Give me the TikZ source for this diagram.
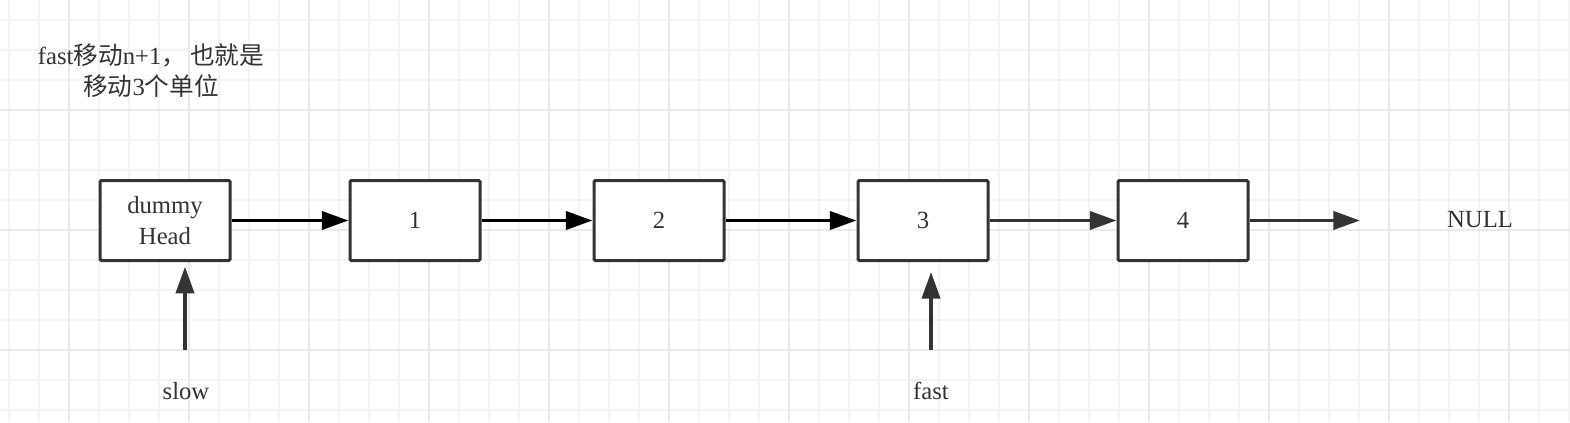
\documentclass[tikz,border=0pt]{standalone}
\usepackage{fontspec}
\setmainfont{Liberation Serif}
\newfontfamily\cjk{Noto Sans CJK SC}
\usepackage{xcolor}
\usepackage{tikz}
\usetikzlibrary{arrows.meta, positioning, calc}
\definecolor{ink}{HTML}{333333}
\definecolor{gridminor}{HTML}{F4F4F4}
\definecolor{gridmajor}{HTML}{EAEAEA}

\begin{document}
\begin{tikzpicture}[x=0.75pt, y=0.75pt,
    listnode/.style={draw=ink, line width=2.25pt, rounded corners=1pt, fill=white,
      minimum width=97.5pt, minimum height=60pt, align=center, text=ink},
    link/.style={draw=black, line width=2.9pt, -{Triangle[length=20pt, width=13.5pt]}},
    pointer/.style={link, draw=ink},
    tag/.style={text=ink, align=center},
    gridline/.style={draw=gridminor, line width=1.4pt},
    gridbold/.style={draw=gridmajor, line width=1.6pt}
  ]
  \useasboundingbox (0,0) rectangle (1570,-422);
  \fill[white] (0,0) rectangle (1570,-422);
  % The grid
  \foreach \gx in {9,39,...,1569} \draw[gridline] (\gx,0) -- (\gx,-422);
  \foreach \gy in {20,50,...,410} \draw[gridline] (0,-\gy) -- (1570,-\gy);
  \foreach \gx in {69,189,...,1509} \draw[gridbold] (\gx,0) -- (\gx,-422);
  \foreach \gy in {110,230,350} \draw[gridbold] (0,-\gy) -- (1570,-\gy);
  \begin{scope}[font=\fontsize{18.5}{23.25}\selectfont]
  % The note
  \node[tag] (note) at (151,-71) {fast{\cjk 移动}n+1{\cjk ，\,也就是}\\{\cjk 移动}3{\cjk 个单位}};
  % The list
  \node[listnode] (dummy) at (165,-220.5) {dummy\\Head};
  \node[listnode] (n1) at (415,-220.5) {1};
  \node[listnode] (n2) at (659,-220.5) {2};
  \node[listnode] (n3) at (923,-220.5) {3};
  \node[listnode] (n4) at (1183,-220.5) {4};
  \node[tag] (null) at (1480,-220) {NULL};
  \coordinate (nulltip) at (1360,-220.5);
  \draw[link] (dummy) -- (n1);
  \draw[link] (n1) -- (n2);
  \draw[link] (n2) -- (n3);
  \draw[pointer] (n3) -- (n4);
  \draw[pointer] (n4) -- (nulltip);
  % The two pointers
  \node[tag] (slow) at (186,-391) {slow};
  \node[tag] (fast) at (931,-391) {fast};
  \coordinate (slowtail) at (185,-350);
  \coordinate (fasttail) at (931,-350);
  \draw[pointer, shorten >=3.5pt] (slowtail) -- (slowtail |- dummy.south);
  \draw[pointer, shorten >=7.5pt] (fasttail) -- (fasttail |- n3.south);
  \end{scope}
\end{tikzpicture}
\end{document}
